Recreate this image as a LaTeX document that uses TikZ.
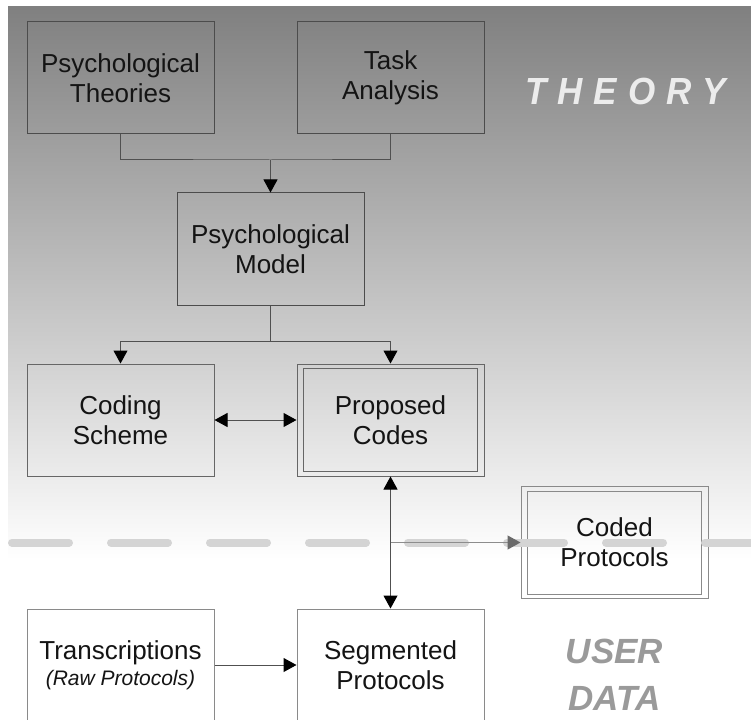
\documentclass[tikz,border=0pt]{standalone}
\usepackage{fontspec}
\setmainfont{Liberation Sans}
\usetikzlibrary{arrows.meta}
\definecolor{bgtop}{HTML}{808080}
\definecolor{bordA}{HTML}{4C4C4C}
\definecolor{bordB}{HTML}{666666}
\definecolor{bordC}{HTML}{8A8A8A}
\definecolor{connc}{HTML}{505050}
\definecolor{dashgray}{HTML}{D4D4D4}
\definecolor{graycon}{HTML}{8C8C8C}
\definecolor{graytip}{HTML}{6A6A6A}
\definecolor{theorycol}{HTML}{ECECEC}
\definecolor{usercol}{HTML}{9A9A9A}
\begin{document}
\begin{tikzpicture}[x=1pt,y=-1pt,
  box/.style={draw=#1, line width=1pt, minimum width=187pt, minimum height=112pt,
    inner sep=0pt, align=center, text=black!92, font=\fontsize{26}{30}\selectfont},
  conn/.style={draw=connc, line width=1pt},
  tip/.tip={Triangle[width=14pt,length=13pt,color=black]},
  headline/.style={inner sep=0pt, font=\fontsize{35}{47}\selectfont\bfseries\itshape}
]
\useasboundingbox (0,0) rectangle (751,719);
% background gradient
\shade[top color=bgtop, bottom color=white] (8,7) rectangle (751,560);

% boxes
\node[box=bordA] (pt) at (120.5,78) {Psychological\\Theories};
\node[box=bordA] (ta) at (390.5,78) {Task\\Analysis};
\node[box=bordA] (pm) at (270.5,249) {Psychological\\Model};
\node[box=bordB] (cs) at (120.5,420) {Coding\\Scheme};
\node[box=bordB] (pc) at (390.5,420) {Proposed\\Codes};
\draw[bordB, line width=1pt] ([shift={(7pt,-5pt)}]pc.north west) rectangle ([shift={(-7pt,5pt)}]pc.south east);
\node[box=bordC] (cp) at (614.5,542.5) {Coded\\Protocols};
\draw[bordC, line width=1pt] ([shift={(7pt,-5pt)}]cp.north west) rectangle ([shift={(-7pt,5pt)}]cp.south east);
\node[box=bordC, fill=white] (tr) at (120.5,665) {Transcriptions\\[-4pt]{\fontsize{21}{25}\selectfont\itshape (Raw Protocols)}};
\node[box=bordC, fill=white] (sp) at (390.5,665) {Segmented\\Protocols};

% labels
\node[headline, anchor=base west, text=theorycol, yscale=1.08] (th) at (525,105)
  {T\hspace{11pt}H\hspace{11pt}E\hspace{11pt}O\hspace{11pt}R\hspace{11pt}Y};
\node[headline, align=center, text=usercol] (ud) at (614.5,675) {USER\\DATA};

% connectors
\coordinate (j1) at (270.5,160);
\coordinate (j2) at (270.5,341);
\draw[conn] (pt.south) |- (j1) -| (ta.south);
\draw[conn,-tip] (j1) -- (pm.north);
\draw[conn] (pm.south) -- (j2);
\draw[conn,-tip] (j2) -| (cs.north);
\draw[conn,-tip] (j2) -| (pc.north);
\draw[conn,tip-tip] (cs.east) -- (pc.west);
\draw[conn,tip-tip] (pc.south) -- (sp.north);
\draw[conn,-tip] (tr.east) -- (sp.west);

% dashed boundary
\draw[dashgray, line width=8pt, line cap=round, dash pattern=on 57pt off 42pt] (12,542.5) -- (780,542.5);

% grey arrow to coded protocols
\draw[graycon, line width=1.2pt, -{Triangle[width=14pt,length=13pt,color=graytip]}] (cp.west -| pc.south) -- (cp.west);
\end{tikzpicture}
\end{document}
